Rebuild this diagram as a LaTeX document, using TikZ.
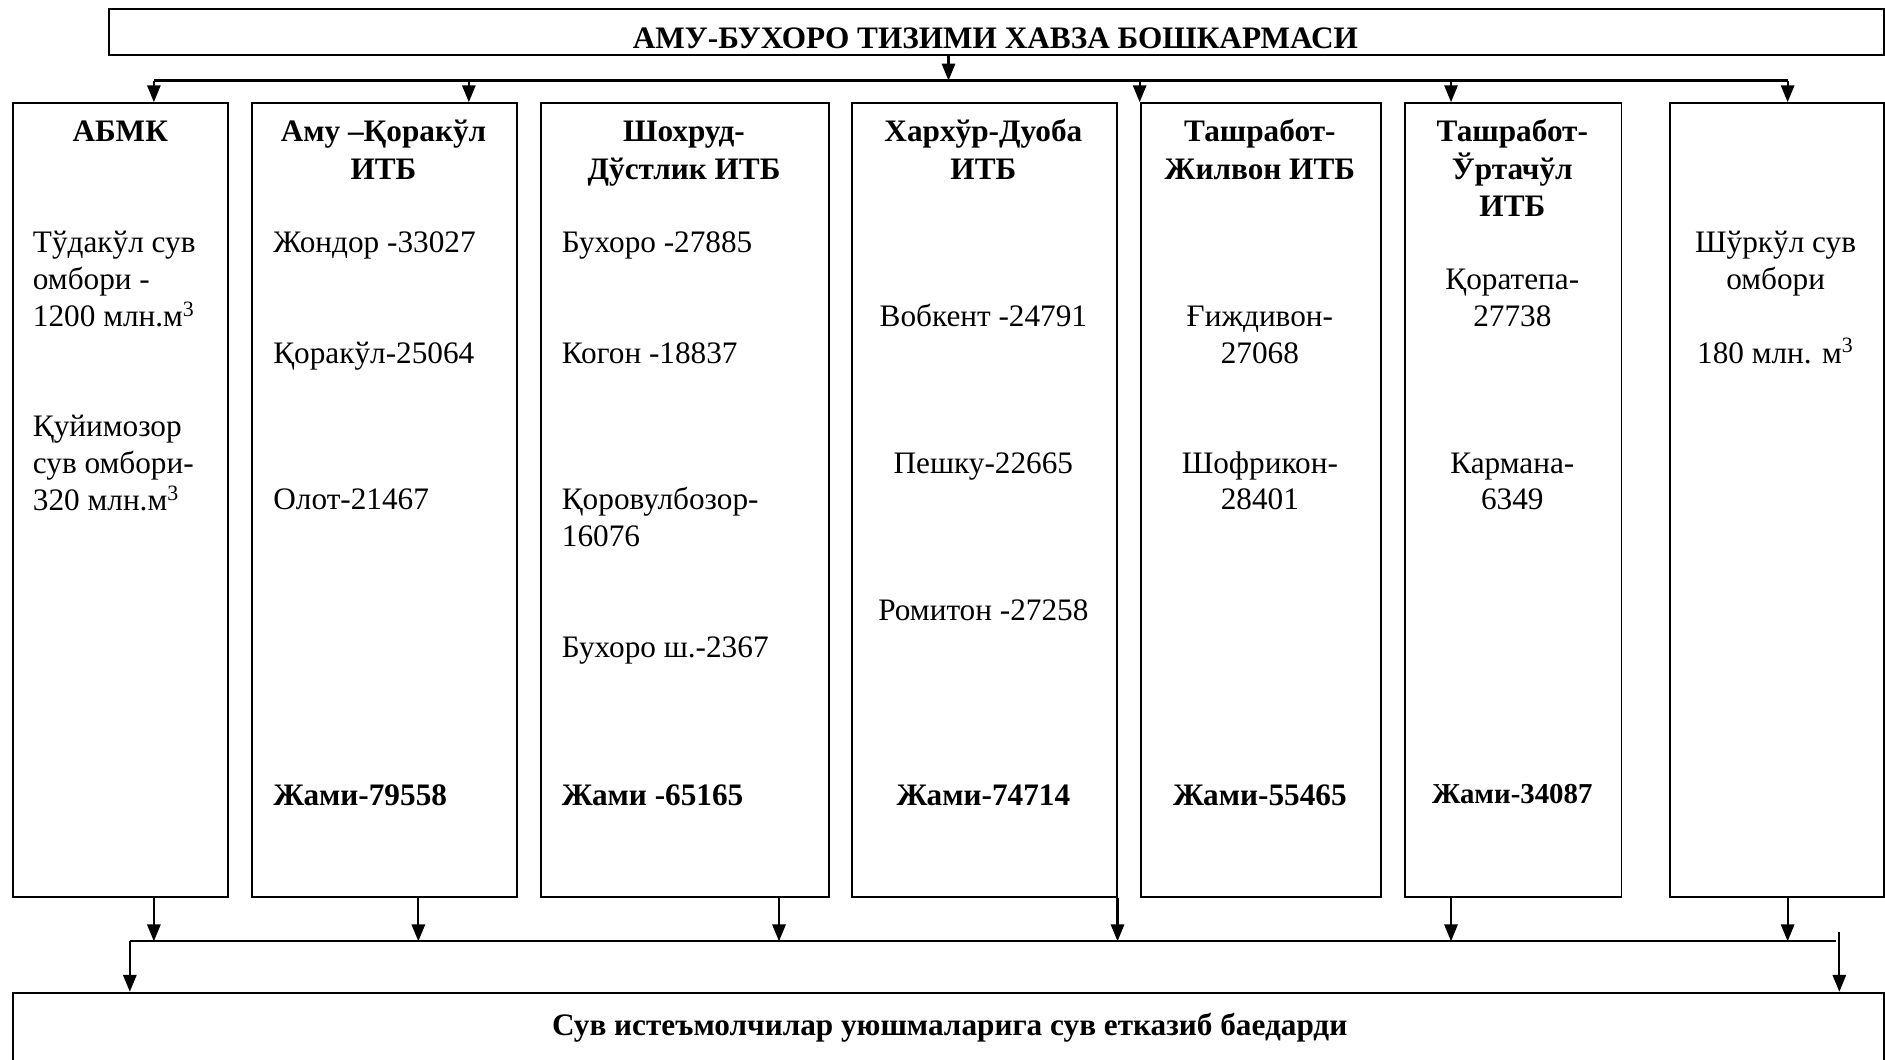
\documentclass[tikz,border=0pt]{standalone}
\usepackage{fontspec}
\setmainfont{Liberation Serif}
\usetikzlibrary{arrows.meta}
\tikzset{
  box/.style={draw,line width=0.8pt,anchor=north west,inner sep=0pt,minimum height=330pt},
  title/.style={font=\bfseries,anchor=base,inner sep=0pt},
  item/.style={anchor=base west,inner sep=0pt},
  citem/.style={anchor=base,inner sep=0pt},
  total/.style={font=\bfseries,anchor=base west,inner sep=0pt},
  link/.style={line width=0.9pt},
  arr/.style={line width=0.9pt,-{Triangle[length=7pt,width=5.5pt]}}
}
\begin{document}
\fontsize{13}{15.5}\selectfont
\begin{tikzpicture}[x=0.5pt,y=-0.5pt]
  \useasboundingbox (0,0) rectangle (1568,881);
  % header and bottom boxes
  \node[box,minimum width=738pt,minimum height=19pt] (head) at (90,7) {};
  \node[title] (headtxt) at (828,40) {АМУ-БУХОРО ТИЗИМИ ХАВЗА БОШКАРМАСИ};
  \node[box,minimum width=778pt,minimum height=45pt] (users) at (10,825) {};
  \node[title] (userstxt) at (790,861) {Сув истеъмолчилар уюшмаларига сув етказиб баедарди};
  % the seven boxes
  \node[box,minimum width=89.5pt] (abmk) at (10,85) {};
  \node[box,minimum width=110pt] (amu) at (209,85) {};
  \node[box,minimum width=120pt] (shohrud) at (449,85) {};
  \node[box,minimum width=110pt] (harhur) at (708,85) {};
  \node[box,minimum width=100pt] (jilvon) at (948,85) {};
  \node[box,minimum width=90pt] (urtachul) at (1168,85) {};
  \node[box,minimum width=89pt] (shurkul) at (1388,85) {};
  % АБМК
  \node[title] (abmk0) at (100,118) {АБМК};
  \node[item] (abmk1) at (27,210) {Тўдакўл сув};
  \node[item] (abmk2) at (27,241) {омбори -};
  \node[item] (abmk3) at (27,272) {1200 млн.м\textsuperscript{3}};
  \node[item] (abmk4) at (27,363) {Қуйимозор};
  \node[item] (abmk5) at (27,394) {сув омбори-};
  \node[item] (abmk6) at (27,425) {320 млн.м\textsuperscript{3}};
  % Аму-Қоракўл
  \node[title] (amu0) at (319,118) {Аму –Қоракўл};
  \node[title] (amu00) at (319,149) {ИТБ};
  \node[item] (amu1) at (227,210) {Жондор -33027};
  \node[item] (amu2) at (227,302) {Қоракўл-25064};
  \node[item] (amu3) at (227,424) {Олот-21467};
  \node[total] (amu4) at (227,670) {Жами-79558};
  % Шохруд-Дўстлик
  \node[title] (shohrud0) at (569,118) {Шохруд-};
  \node[title] (shohrud00) at (569,149) {Дўстлик ИТБ};
  \node[item] (shohrud1) at (467,210) {Бухоро -27885};
  \node[item] (shohrud2) at (467,302) {Когон -18837};
  \node[item] (shohrud3) at (467,424) {Қоровулбозор-};
  \node[item] (shohrud4) at (467,455) {16076};
  \node[item] (shohrud5) at (467,547) {Бухоро ш.-2367};
  \node[total] (shohrud6) at (467,670) {Жами -65165};
  % Хархўр-Дуоба
  \node[title] (harhur0) at (818,118) {Хархўр-Дуоба};
  \node[title] (harhur00) at (818,149) {ИТБ};
  \node[citem] (harhur1) at (818,272) {Вобкент -24791};
  \node[citem] (harhur2) at (818,394) {Пешку-22665};
  \node[citem] (harhur3) at (818,516) {Ромитон -27258};
  \node[title] (harhur4) at (818,670) {Жами-74714};
  % Ташработ-Жилвон
  \node[title] (jilvon0) at (1048,118) {Ташработ-};
  \node[title] (jilvon00) at (1048,149) {Жилвон ИТБ};
  \node[citem] (jilvon1) at (1048,272) {Ғиждивон-};
  \node[citem] (jilvon2) at (1048,302) {27068};
  \node[citem] (jilvon3) at (1048,394) {Шофрикон-};
  \node[citem] (jilvon4) at (1048,424) {28401};
  \node[title] (jilvon5) at (1048,670) {Жами-55465};
  % Ташработ-Ўртачўл
  \node[title] (urtachul0) at (1258,118) {Ташработ-};
  \node[title] (urtachul00) at (1258,149) {Ўртачўл};
  \node[title] (urtachul000) at (1258,180) {ИТБ};
  \node[citem] (urtachul1) at (1258,241) {Қоратепа-};
  \node[citem] (urtachul2) at (1258,272) {27738};
  \node[citem] (urtachul3) at (1258,394) {Кармана-};
  \node[citem] (urtachul4) at (1258,424) {6349};
  \node[title,font=\fontsize{12}{14}\selectfont\bfseries] (urtachul5) at (1258,668) {Жами-34087};
  % Шўркўл
  \node[citem] (shurkul1) at (1477,210) {Шўркўл сув};
  \node[citem] (shurkul2) at (1477,241) {омбори};
  \node[citem] (shurkul3) at (1477,302) {180 млн. м\textsuperscript{3}};
  % top connectors
  \coordinate (hub) at (789,67);
  \coordinate (topL) at (128,67);
  \coordinate (topR) at (1487,67);
  \draw[arr] (head.south -| hub) -- (hub);
  \draw[link] (topL) -- (topR);
  \draw[arr] (topL) -- (abmk.north -| topL);
  \draw[arr] (topL -| 390,0) -- (amu.north -| 390,0);
  \draw[arr] (topL -| jilvon.north west) -- (jilvon.north west);
  \draw[arr] (topL -| 1207,0) -- (urtachul.north -| 1207,0);
  \draw[arr] (topR) -- (shurkul.north -| topR);
  % bottom connectors
  \coordinate (botL) at (108,783);
  \coordinate (botR) at (1527,783);
  \coordinate (endR) at (1530,775);
  \draw[link] (botL) -- (botR);
  \draw[arr] (abmk.south -| 128,0) -- (botL -| 128,0);
  \draw[arr] (amu.south -| 348,0) -- (botL -| 348,0);
  \draw[arr] (shohrud.south -| 648,0) -- (botL -| 648,0);
  \draw[arr] (harhur.south east) -- (botL -| harhur.south east);
  \draw[arr] (urtachul.south -| 1207,0) -- (botL -| 1207,0);
  \draw[arr] (shurkul.south -| 1487,0) -- (botL -| 1487,0);
  \draw[arr] (botL) -- (users.north -| botL);
  \draw[arr] (endR) -- (users.north -| endR);
\end{tikzpicture}
\end{document}
